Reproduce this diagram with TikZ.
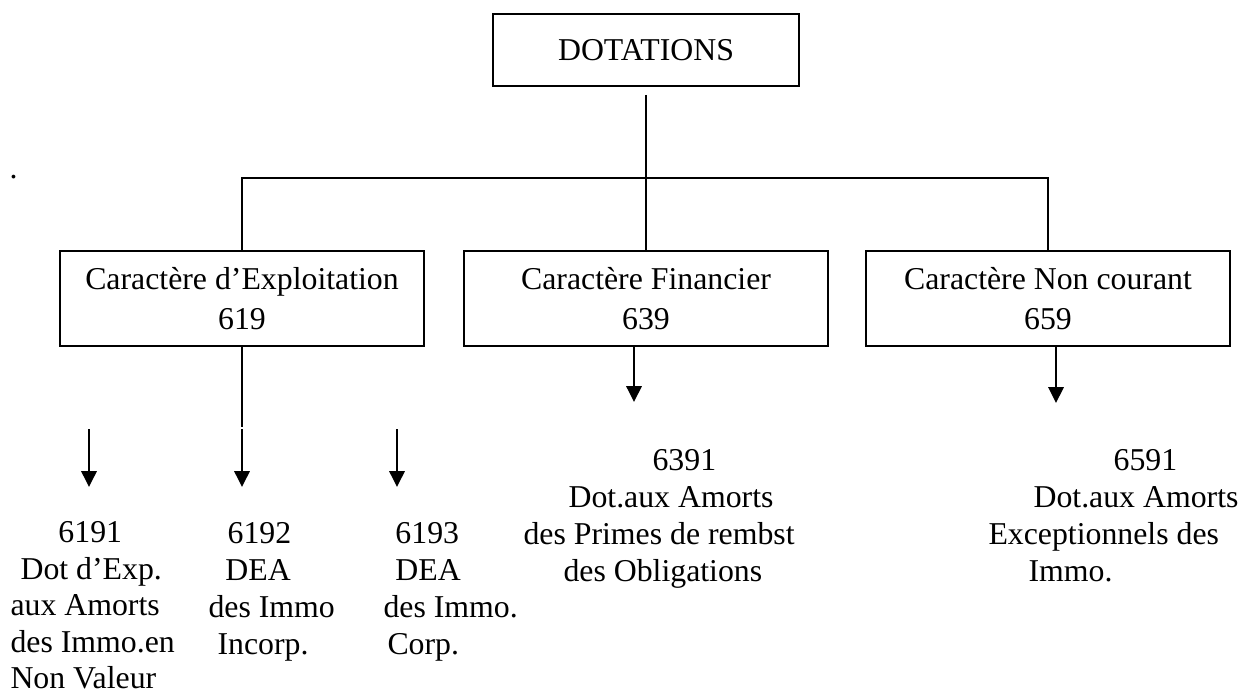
\documentclass[tikz,border=0pt]{standalone}
\usepackage{fontspec}
\setmainfont{Liberation Serif}
\usetikzlibrary{arrows.meta, positioning}

\begin{document}
\begin{tikzpicture}[x=0.3774pt, y=-0.3774pt,
    every node/.style={font=\fontsize{12pt}{14pt}\selectfont},
    box/.style={draw, line width=0.7pt, align=center, font=\fontsize{12pt}{15pt}\selectfont},
    caractere/.style={box, minimum width=137.5pt, minimum height=35.8pt},
    compte/.style={inner sep=0pt, anchor=north west, align=left},
    link/.style={line width=0.6pt},
    arr/.style={line width=0.75pt, -{Triangle[length=6pt,width=5.8pt]}},]

\useasboundingbox (0,0) rectangle (1241,691);

% top level
\node[box, minimum width=115.5pt, minimum height=27.2pt] (dotations) at (646,50) {DOTATIONS};
\node[inner sep=0pt, anchor=base west] (point) at (9,178) {.};

% second level
\node[caractere] (exploit) at (242,298.5) {Caractère d’Exploitation\\619};
\node[caractere] (financier) at (646,298.5) {Caractère Financier\\639};
\node[caractere] (noncourant) at (1048,298.5) {Caractère Non courant\\659};

\coordinate (bus) at (646,178);
\draw[link] ([yshift=-3pt]dotations.south) -- (financier.north);
\draw[link] (exploit.north) |- (bus) -| (noncourant.north);

% accounts
\node[compte, font=\fontsize{12pt}{13.8pt}\selectfont] (c6191) at (10,521) {\hspace*{18.1pt}6191\\\hspace*{3.8pt}Dot d’Exp.\\aux Amorts\\des Immo.en\\Non Valeur};
\node[compte] (c6192) at (208,522) {\hspace*{7.2pt}6192\\\hspace*{6.4pt}DEA\\des Immo\\\hspace*{3.4pt}Incorp.};
\node[compte] (c6193) at (383,522) {\hspace*{4.5pt}6193\\\hspace*{4.5pt}DEA\\des Immo.\\\hspace*{1.5pt}Corp.};
\node[compte] (c6391) at (523,449) {\hspace*{48.7pt}6391\\\hspace*{17pt}Dot.aux Amorts\\des Primes de rembst\\\hspace*{15.1pt}des Obligations};
\node[compte] (c6591) at (988,449) {\hspace*{47.2pt}6591\\\hspace*{17pt}Dot.aux Amorts\\Exceptionnels des\\\hspace*{15.1pt}Immo.};

\coordinate (split) at (242,427);
\coordinate (s6191) at (89,429);  \coordinate (e6191) at (89,487);
\coordinate (s6192) at (242,429); \coordinate (e6192) at (242,487);
\coordinate (s6193) at (397,429); \coordinate (e6193) at (397,487);
\coordinate (e6391) at (634,402);
\coordinate (e6591) at (1056,403);

\draw[link] (exploit.south) -- (split);
\draw[arr] (s6191) -- (e6191);
\draw[arr] (s6192) -- (e6192);
\draw[arr] (s6193) -- (e6193);
\draw[arr] (e6391 |- financier.south) -- (e6391);
\draw[arr] (e6591 |- noncourant.south) -- (e6591);
\end{tikzpicture}
\end{document}
